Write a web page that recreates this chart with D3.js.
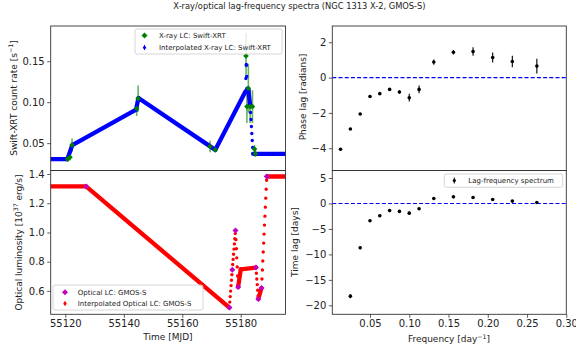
<!DOCTYPE html>
<html><head><meta charset="utf-8">
<script src="https://cdn.jsdelivr.net/npm/d3@7"></script>
<style>
body{margin:0;background:#fff}
svg{display:block}
text{font-family:"DejaVu Sans",sans-serif;fill:#222}
</style>
</head><body>
<svg id="c" width="576" height="353"></svg>
<script>
// ---------------- data ----------------
const xrayT = [55120.8, 55121.6, 55122.3, 55144.4, 55144.9, 55169.5, 55171.3, 55181.8, 55182.1, 55182.6, 55183.2, 55184.0, 55184.7, 55185.0];
const xrayC = [0.0305, 0.0329, 0.0476, 0.0922, 0.1044, 0.0459, 0.0418, 0.1565, 0.0946, 0.117, 0.0946, 0.0946, 0.0427, 0.037];
const xrayE = [0.003, 0.004, 0.008, 0.009, 0.016, 0.007, 0.003, 0.028, 0.02, 0.03, 0.02, 0.02, 0.005, 0.004];

const xInterpT = [55115.0, 55120.7, 55122.4, 55144.2, 55145.0, 55171.3, 55181.6, 55181.9, 55182.2, 55182.6, 55183.2, 55184.2, 55195.3];
const xInterpC = [0.0305, 0.0305, 0.0477, 0.091, 0.105, 0.0418, 0.113, 0.146, 0.116, 0.115, 0.096, 0.037, 0.037];

const optT = [55127.1, 55176.1, 55177.1, 55178.2, 55179.1, 55185.2, 55186.0, 55187.1, 55188.9];
const optL = [1.315, 0.486, 0.745, 1.013, 0.627, 0.760, 0.545, 0.620, 1.383];

const oInterpT = [55115.0, 55127.1, 55176.1, 55177.1, 55178.2, 55179.1, 55180.0, 55185.2, 55186.0, 55187.1, 55188.9, 55195.3];
const oInterpL = [1.315, 1.315, 0.486, 0.745, 1.013, 0.627, 0.748, 0.760, 0.545, 0.620, 1.383, 1.383];

const freqs = [0.0125, 0.025, 0.0375, 0.05, 0.0625, 0.075, 0.0875, 0.1, 0.1125, 0.13125, 0.15625, 0.18125, 0.20625, 0.23125, 0.2625];
const phaseLag = [-4.06, -2.91, -2.06, -1.07, -0.91, -0.67, -0.82, -1.14, -0.67, 0.88, 1.43, 1.47, 1.14, 0.91, 0.65];
const phaseErr = [0.06, 0.06, 0.06, 0.07, 0.07, 0.08, 0.1, 0.22, 0.22, 0.15, 0.13, 0.24, 0.28, 0.32, 0.42];

const lagFreqs = [0.025, 0.0375, 0.05, 0.0625, 0.075, 0.0875, 0.1, 0.1125, 0.13125, 0.15625, 0.18125, 0.20625, 0.23125, 0.2625];
const timeLag = [-18.2, -8.7, -3.4, -2.4, -1.4, -1.56, -1.9, -1.04, 0.98, 1.3, 1.17, 0.78, 0.46, 0.2];
const timeLagErr = [0.4, 0.3, 0.2, 0.15, 0.15, 0.2, 0.3, 0.25, 0.2, 0.15, 0.2, 0.2, 0.2, 0.2];

const timeTicks = [55120, 55140, 55160, 55180];
const countTicks = [0.05, 0.10, 0.15];
const lumTicks = [0.6, 0.8, 1.0, 1.2, 1.4];
const phaseTicks = [-4, -2, 0, 2];
const lagTicks = [-20, -15, -10, -5, 0, 5];
const freqTicks = [0.05, 0.10, 0.15, 0.20, 0.25, 0.30];

const interpStep = 0.145; // sampling step of interpolated curves (days), used only for dot styling

// ---------------- layout ----------------
const svg = d3.select("#c");
const L = {x0: 50.7, x1: 285.5}, R = {x0: 332.3, x1: 566.3};
const top0 = 26, mid = 170.5, bot = 314.3;

const xT = d3.scaleLinear().domain([55115.0, 55195.3]).range([L.x0, L.x1]);
const yX = d3.scaleLinear().domain([0.0166, 0.193]).range([mid, top0]);
const yO = d3.scaleLinear().domain([0.44, 1.424]).range([bot, mid]);
const xF = d3.scaleLinear().domain([0.002, 0.30]).range([R.x0, R.x1]);
const yP = d3.scaleLinear().domain([-5.26, 2.92]).range([mid, top0]);
const yLg = d3.scaleLinear().domain([-21.76, 6.47]).range([bot, mid]);

const minus = s => s.replace("-", "\u2212");
const defs = svg.append("defs");
function clip(id, x0, y0, x1, y1) {
  defs.append("clipPath").attr("id", id).append("rect")
    .attr("x", x0).attr("y", y0).attr("width", x1 - x0).attr("height", y1 - y0);
  return svg.append("g").attr("clip-path", `url(#${id})`);
}

function styleAxis(g) {
  g.select(".domain").remove();
  g.selectAll(".tick line").attr("stroke", "#333").attr("stroke-width", 0.8);
  g.selectAll(".tick text").attr("font-size", 10).attr("fill", "#222")
    .attr("font-family", '"DejaVu Sans",sans-serif');
}

// axes
svg.append("g").attr("transform", `translate(${L.x0},0)`)
  .call(d3.axisLeft(yX).tickValues(countTicks).tickFormat(d3.format(".2f")).tickSize(3.5).tickPadding(2.5)).call(styleAxis);
svg.append("g").attr("transform", `translate(${L.x0},0)`)
  .call(d3.axisLeft(yO).tickValues(lumTicks).tickFormat(d3.format(".1f")).tickSize(3.5).tickPadding(2.5)).call(styleAxis);
svg.append("g").attr("transform", `translate(0,${bot})`)
  .call(d3.axisBottom(xT).tickValues(timeTicks).tickFormat(d3.format("d")).tickSize(3.5).tickPadding(2)).call(styleAxis);
svg.append("g").attr("transform", `translate(${R.x0},0)`)
  .call(d3.axisLeft(yP).tickValues(phaseTicks).tickFormat(d => minus(String(d))).tickSize(3.5).tickPadding(2.5)).call(styleAxis);
svg.append("g").attr("transform", `translate(${R.x0},0)`)
  .call(d3.axisLeft(yLg).tickValues(lagTicks).tickFormat(d => minus(String(d))).tickSize(3.5).tickPadding(2.5)).call(styleAxis);
svg.append("g").attr("transform", `translate(0,${bot})`)
  .call(d3.axisBottom(xF).tickValues(freqTicks).tickFormat(d3.format(".2f")).tickSize(3.5).tickPadding(2)).call(styleAxis);

// ---------------- left top: X-ray ----------------
const diamond = r => `M0,${-r}L${r},0L0,${r}L${-r},0Z`;

function drawInterp(g, ts, vs, x, y, color) {
  for (let i = 0; i < ts.length - 1; i++) {
    const x0 = x(ts[i]), y0 = y(vs[i]), x1 = x(ts[i + 1]), y1 = y(vs[i + 1]);
    const len = Math.hypot(x1 - x0, y1 - y0);
    const steps = Math.max(1, (ts[i + 1] - ts[i]) / interpStep);
    const gap = len / steps;
    const dotted = gap > 4.2;
    g.append("path").attr("d", `M${x0},${y0}L${x1},${y1}`)
      .attr("stroke", color).attr("stroke-width", dotted ? 3.4 : 4.3).attr("fill", "none")
      .attr("stroke-linecap", "round")
      .attr("stroke-dasharray", dotted ? `0,${gap}` : null);
  }
}

const gX = clip("cX", L.x0, top0, L.x1, mid);
const xIdx = d3.range(xrayT.length);
gX.selectAll("line.eb").data(xIdx).join("line")
  .attr("x1", i => xT(xrayT[i])).attr("x2", i => xT(xrayT[i]))
  .attr("y1", i => yX(xrayC[i] - xrayE[i])).attr("y2", i => yX(xrayC[i] + xrayE[i]))
  .attr("stroke", "#008000").attr("stroke-opacity", 0.6).attr("stroke-width", 1.6);
drawInterp(gX, xInterpT, xInterpC, xT, yX, "#0000ff");
gX.selectAll("path.dm").data(xIdx).join("path")
  .attr("d", diamond(2.8))
  .attr("transform", i => `translate(${xT(xrayT[i])},${yX(xrayC[i])})`)
  .attr("fill", "#008000");

// ---------------- left bottom: optical ----------------
const gO = clip("cO", L.x0, mid, L.x1, bot);
drawInterp(gO, oInterpT, oInterpL, xT, yO, "#ff0000");
gO.selectAll("path.dm").data(d3.range(optT.length)).join("path")
  .attr("d", diamond(3))
  .attr("transform", i => `translate(${xT(optT[i])},${yO(optL[i])})`)
  .attr("fill", "#bf00bf");

// ---------------- right top: phase lag ----------------
const gP = clip("cP", R.x0, top0, R.x1, mid);
gP.append("line").attr("x1", R.x0).attr("x2", R.x1).attr("y1", yP(0)).attr("y2", yP(0))
  .attr("stroke", "#0000ff").attr("stroke-width", 1.1).attr("stroke-dasharray", "4,2.2");
const pIdx = d3.range(freqs.length);
gP.selectAll("line.eb").data(pIdx).join("line")
  .attr("x1", i => xF(freqs[i])).attr("x2", i => xF(freqs[i]))
  .attr("y1", i => yP(phaseLag[i] - phaseErr[i])).attr("y2", i => yP(phaseLag[i] + phaseErr[i]))
  .attr("stroke", "#000").attr("stroke-width", 1.1);
gP.selectAll("circle").data(pIdx).join("circle")
  .attr("cx", i => xF(freqs[i])).attr("cy", i => yP(phaseLag[i])).attr("r", 1.8).attr("fill", "#000");

// ---------------- right bottom: time lag ----------------
const gL = clip("cL", R.x0, mid, R.x1, bot);
gL.append("line").attr("x1", R.x0).attr("x2", R.x1).attr("y1", yLg(0)).attr("y2", yLg(0))
  .attr("stroke", "#0000ff").attr("stroke-width", 1.1).attr("stroke-dasharray", "4,2.2");
const lIdx = d3.range(lagFreqs.length);
gL.selectAll("line.eb").data(lIdx).join("line")
  .attr("x1", i => xF(lagFreqs[i])).attr("x2", i => xF(lagFreqs[i]))
  .attr("y1", i => yLg(timeLag[i] - timeLagErr[i])).attr("y2", i => yLg(timeLag[i] + timeLagErr[i]))
  .attr("stroke", "#000").attr("stroke-width", 1.1);
gL.selectAll("circle").data(lIdx).join("circle")
  .attr("cx", i => xF(lagFreqs[i])).attr("cy", i => yLg(timeLag[i])).attr("r", 1.8).attr("fill", "#000");

// ---------------- frames ----------------
[[L.x0, top0, L.x1, mid], [L.x0, mid, L.x1, bot], [R.x0, top0, R.x1, mid], [R.x0, mid, R.x1, bot]].forEach(([a, b, c, d]) => {
  svg.append("rect").attr("x", a).attr("y", b).attr("width", c - a).attr("height", d - b)
    .attr("fill", "none").attr("stroke", "#333").attr("stroke-width", 0.9);
});

// ---------------- legends ----------------
function legendBox(x0, y0, x1, y1) {
  svg.append("rect").attr("x", x0).attr("y", y0).attr("width", x1 - x0).attr("height", y1 - y0)
    .attr("rx", 2).attr("fill", "#fff").attr("fill-opacity", 0.8).attr("stroke", "#ccc").attr("stroke-width", 0.8);
}
function legendText(x, y, s) {
  svg.append("text").attr("x", x).attr("y", y).attr("font-size", 7).text(s);
}
function ebMarker(x, y, color, h) {
  svg.append("line").attr("x1", x).attr("x2", x).attr("y1", y - h).attr("y2", y + h)
    .attr("stroke", color).attr("stroke-width", 1);
  svg.append("circle").attr("cx", x).attr("cy", y).attr("r", 1.6).attr("fill", color);
}
// X-ray legend
legendBox(135, 29, 282, 54);
svg.append("path").attr("d", diamond(3)).attr("transform", "translate(144.5,35.5)").attr("fill", "#008000");
legendText(159, 38, "X-ray LC: Swift-XRT");
ebMarker(144.5, 47.5, "#0000ff", 2.5);
legendText(159, 50, "Interpolated X-ray LC: Swift-XRT");
// optical legend
legendBox(53, 285, 203, 310);
svg.append("path").attr("d", diamond(3)).attr("transform", "translate(65,292.3)").attr("fill", "#bf00bf");
legendText(77.7, 295, "Optical LC: GMOS-S");
ebMarker(65, 303.5, "#ff0000", 2.5);
legendText(77.7, 306, "Interpolated Optical LC: GMOS-S");
// lag legend
legendBox(444.3, 174, 562.7, 187.3);
ebMarker(454.3, 180.5, "#000", 3);
legendText(468.3, 183, "Lag-frequency spectrum");

// ---------------- labels ----------------
svg.append("text").attr("x", 299.5).attr("y", 8.5).attr("text-anchor", "middle").attr("font-size", 8.3)
  .text("X-ray/optical lag-frequency spectra (NGC 1313 X-2, GMOS-S)");

function addLabel(t, parts) {
  parts.forEach(p => {
    const s = t.append("tspan").text(p.t);
    if (p.sup) s.attr("font-size", 6.3).attr("dy", -3.5);
    if (p.down) s.attr("dy", 3.5);
  });
}
function xlabel(x, y, parts) {
  addLabel(svg.append("text").attr("x", x).attr("y", y).attr("text-anchor", "middle").attr("font-size", 9), parts);
}
function ylabel(x, y, parts) {
  addLabel(svg.append("text").attr("transform", `translate(${x},${y}) rotate(-90)`)
    .attr("text-anchor", "middle").attr("font-size", 9), parts);
}
xlabel(168, 340, [{t: "Time [MJD]"}]);
xlabel(449, 342, [{t: "Frequency [day"}, {t: "\u22121", sup: true}, {t: "]", down: true}]);
ylabel(16.5, 98, [{t: "Swift-XRT count rate [s"}, {t: "\u22121", sup: true}, {t: "]", down: true}]);
ylabel(21.5, 242.5, [{t: "Optical luminosity [10"}, {t: "37", sup: true}, {t: " erg/s]", down: true}]);
ylabel(305.5, 97, [{t: "Phase lag [radians]"}]);
ylabel(298, 242, [{t: "Time lag [days]"}]);
</script>
</body></html>
